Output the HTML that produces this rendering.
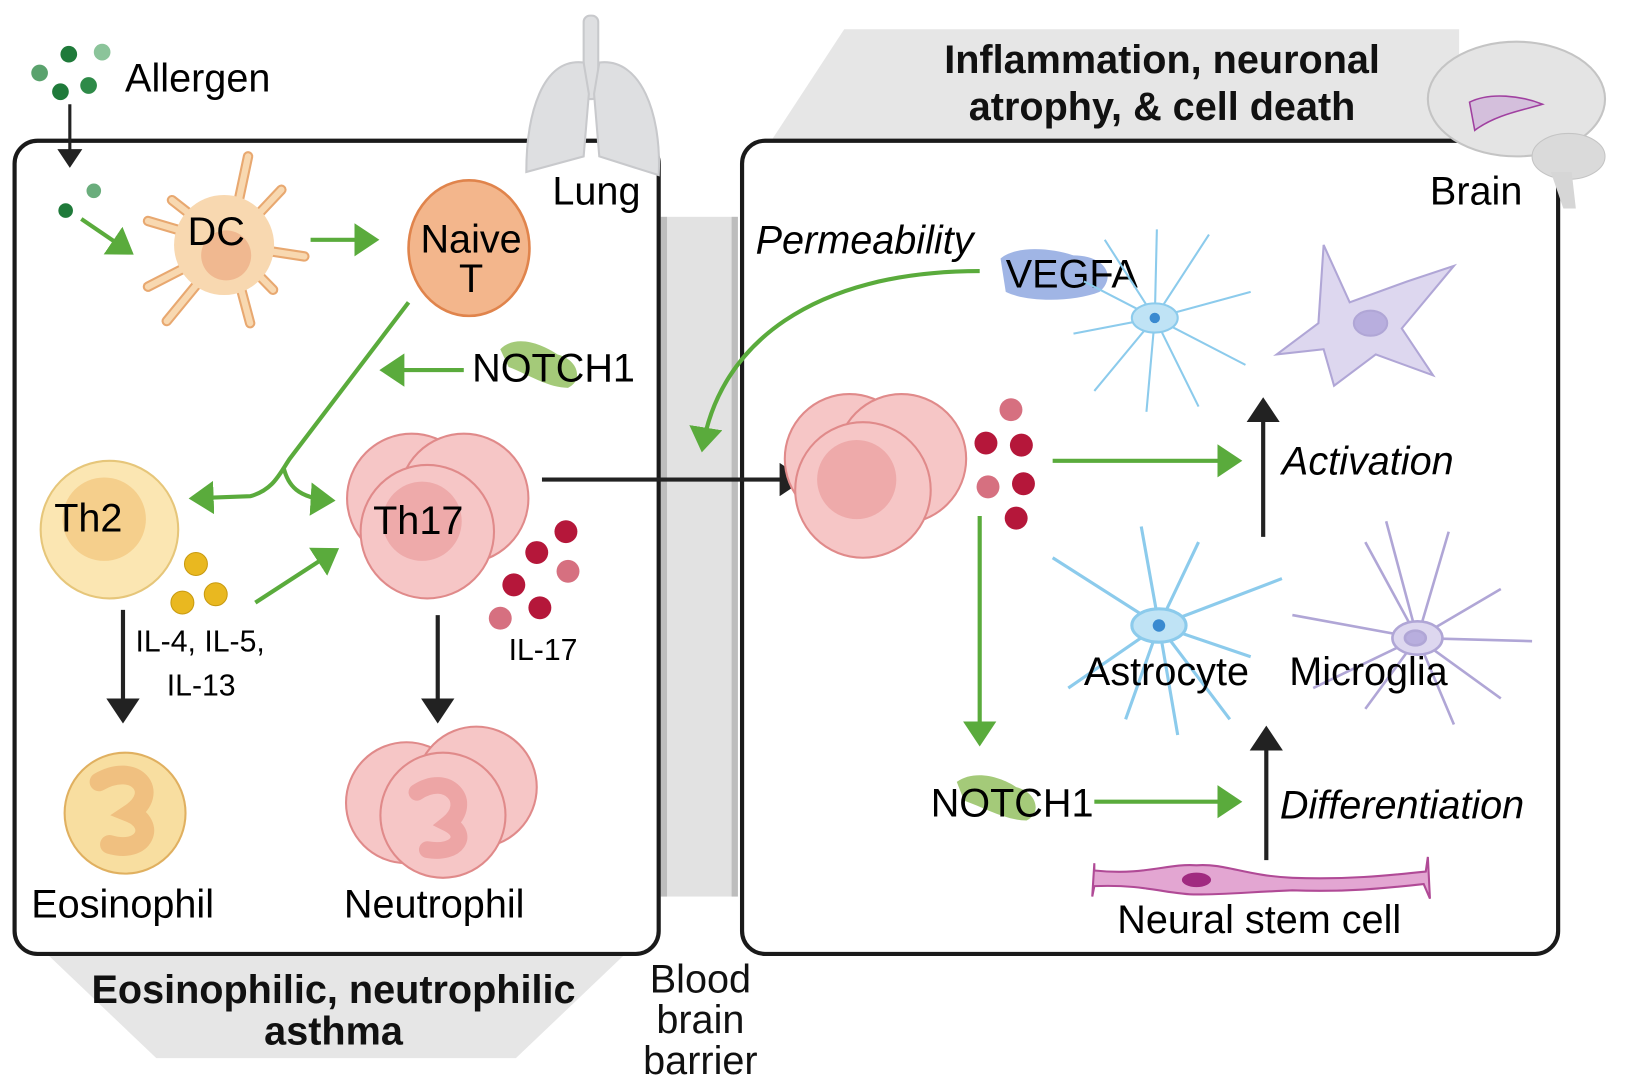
<!DOCTYPE html>
<html><head><meta charset="utf-8"><style>
html,body{margin:0;padding:0;background:#fff;}
svg{display:block;font-family:"Liberation Sans",sans-serif;}
</style></head><body>
<svg width="1629" height="1079" viewBox="0 0 1563 1035" preserveAspectRatio="none">
<defs>
<marker id="ga" markerWidth="8" markerHeight="8" refX="5" refY="4" orient="auto" markerUnits="strokeWidth"><path d="M0,0 L6,4 L0,8 Z" fill="#5aab3c"/></marker>
<marker id="ka" markerWidth="8" markerHeight="8" refX="5" refY="4" orient="auto" markerUnits="strokeWidth"><path d="M0,0 L6,4 L0,8 Z" fill="#222"/></marker>
</defs>

<polygon points="45,915 600,915 495,1015 150,1015" fill="#e6e6e6"/>
<polygon points="740,135 1400,135 1400,28 810,28" fill="#e6e6e6"/>

<g>
<rect x="634" y="208" width="74" height="652" fill="#e2e2e2"/>
<rect x="634" y="208" width="6" height="652" fill="#bdbdbd"/>
<rect x="702" y="208" width="6" height="652" fill="#bdbdbd"/>
</g>

<rect x="14" y="135" width="618" height="780" rx="22" fill="none" stroke="#1a1a1a" stroke-width="4"/>
<rect x="712" y="135" width="783" height="780" rx="22" fill="none" stroke="#1a1a1a" stroke-width="4"/>

<g fill="#dedfe1" stroke="#c8c9cc" stroke-width="2">
<rect x="560" y="15" width="14" height="80" rx="6"/>
<path d="M560,60 C520,55 505,110 505,165 L560,150 L565,90 Z"/>
<path d="M575,60 C615,55 635,110 632,168 L575,150 L570,90 Z"/>
</g>
<g>
<ellipse cx="1455" cy="95" rx="85" ry="55" fill="#e4e4e4" stroke="#c4c4c4" stroke-width="2"/>
<path d="M1410,98 C1430,88 1460,92 1480,100 C1460,106 1435,110 1415,125 Z" fill="#d4bfdc" stroke="#a040a0" stroke-width="1.5"/>
<ellipse cx="1505" cy="150" rx="35" ry="22" fill="#dadada" stroke="#c4c4c4"/>
<path d="M1488,165 L1500,200 L1512,200 L1508,165 Z" fill="#d6d6d6"/>
</g>

<g font-weight="bold" font-size="38" text-anchor="middle" fill="#111">
<text x="320" y="962">Eosinophilic, neutrophilic</text>
<text x="320" y="1002">asthma</text>
<text x="1115" y="70">Inflammation, neuronal</text>
<text x="1115" y="115">atrophy, &amp; cell death</text>
</g>
<g font-size="38" text-anchor="middle" fill="#111">
<text x="672" y="952">Blood</text>
<text x="672" y="991">brain</text>
<text x="672" y="1030">barrier</text>
</g>

<g>
<circle cx="66" cy="52" r="8" fill="#1f7a3a"/><circle cx="98" cy="50" r="8" fill="#8bc49a"/>
<circle cx="38" cy="70" r="8" fill="#5aa26d"/><circle cx="58" cy="88" r="8" fill="#1f7a3a"/><circle cx="85" cy="82" r="8" fill="#2e8a48"/>
<circle cx="63" cy="202" r="7" fill="#1f7a3a"/><circle cx="90" cy="183" r="7" fill="#6aad7c"/>
</g>
<text x="120" y="88" font-size="38">Allergen</text>
<line x1="67" y1="100" x2="67" y2="158" stroke="#222" stroke-width="3" marker-end="url(#ka)"/>
<line x1="78" y1="210" x2="125" y2="242" stroke="#5aab3c" stroke-width="4" marker-end="url(#ga)"/>

<text x="530" y="196" font-size="38">Lung</text>
<text x="1372" y="196" font-size="38">Brain</text>

<g>
<g stroke="#e8a870" stroke-width="10" stroke-linecap="round">
<line x1="220" y1="235" x2="238" y2="150"/><line x1="220" y1="235" x2="270" y2="182"/><line x1="220" y1="235" x2="292" y2="246"/>
<line x1="220" y1="235" x2="262" y2="278"/><line x1="220" y1="235" x2="240" y2="310"/><line x1="220" y1="235" x2="160" y2="308"/>
<line x1="220" y1="235" x2="142" y2="275"/><line x1="220" y1="235" x2="142" y2="212"/><line x1="220" y1="235" x2="165" y2="192"/>
</g>
<g stroke="#f8d8b0" stroke-width="6" stroke-linecap="round">
<line x1="220" y1="235" x2="238" y2="150"/><line x1="220" y1="235" x2="270" y2="182"/><line x1="220" y1="235" x2="292" y2="246"/>
<line x1="220" y1="235" x2="262" y2="278"/><line x1="220" y1="235" x2="240" y2="310"/><line x1="220" y1="235" x2="160" y2="308"/>
<line x1="220" y1="235" x2="142" y2="275"/><line x1="220" y1="235" x2="142" y2="212"/><line x1="220" y1="235" x2="165" y2="192"/>
</g>
<circle cx="215" cy="235" r="48" fill="#f8d8b0"/>
<circle cx="217" cy="245" r="24" fill="#f0b890"/>
</g>
<text x="180" y="235" font-size="38">DC</text>
<line x1="298" y1="230" x2="360" y2="230" stroke="#5aab3c" stroke-width="4" marker-end="url(#ga)"/>

<ellipse cx="450" cy="238" rx="58" ry="65" fill="#f3b68c" stroke="#e0844c" stroke-width="2.5"/>
<text x="452" y="242" font-size="38" text-anchor="middle">Naive</text>
<text x="452" y="280" font-size="38" text-anchor="middle">T</text>

<path d="M480,335 C495,320 520,330 535,340 C555,345 560,365 545,372 C525,372 505,358 488,352 Z" fill="#9ac46a" opacity="0.9"/>
<text x="453" y="366" font-size="38">NOTCH1</text>
<line x1="445" y1="355" x2="368" y2="355" stroke="#5aab3c" stroke-width="4" marker-end="url(#ga)"/>

<path d="M392,290 L278,440 C268,455 262,470 240,476 L185,478" fill="none" stroke="#5aab3c" stroke-width="4" marker-end="url(#ga)"/>
<path d="M272,448 C276,465 285,478 318,480" fill="none" stroke="#5aab3c" stroke-width="4" marker-end="url(#ga)"/>

<g>
<circle cx="105" cy="508" r="66" fill="#fbe6b2" stroke="#e6c67a" stroke-width="2"/>
<circle cx="100" cy="498" r="40" fill="#f5cf8c"/>
</g>
<text x="52" y="510" font-size="38">Th2</text>
<g fill="#e9b820" stroke="#c89a10">
<circle cx="188" cy="541" r="11"/><circle cx="175" cy="578" r="11"/><circle cx="207" cy="570" r="11"/>
</g>
<text x="130" y="625" font-size="29">IL-4, IL-5,</text>
<text x="160" y="667" font-size="29">IL-13</text>
<line x1="245" y1="578" x2="322" y2="528" stroke="#5aab3c" stroke-width="4" marker-end="url(#ga)"/>

<g fill="#f6c6c6" stroke="#e08a8a" stroke-width="2">
<circle cx="395" cy="478" r="62"/><circle cx="445" cy="478" r="62"/><circle cx="410" cy="510" r="64"/>
<circle cx="405" cy="500" r="38" fill="#eeaaaa" stroke="none"/>
</g>
<text x="358" y="512" font-size="38">Th17</text>
<g fill="#b5173a">
<circle cx="543" cy="510" r="11"/><circle cx="515" cy="530" r="11"/><circle cx="545" cy="548" r="11" fill="#d67080"/>
<circle cx="493" cy="561" r="11"/><circle cx="518" cy="583" r="11"/><circle cx="480" cy="593" r="11" fill="#d67080"/>
</g>
<text x="488" y="633" font-size="29">IL-17</text>

<line x1="118" y1="585" x2="118" y2="690" stroke="#222" stroke-width="4" marker-end="url(#ka)"/>
<line x1="420" y1="590" x2="420" y2="690" stroke="#222" stroke-width="4" marker-end="url(#ka)"/>

<g>
<circle cx="120" cy="780" r="58" fill="#f8dea0" stroke="#e0b060" stroke-width="2"/>
<path d="M95,750 C130,730 155,760 125,780 C150,790 140,820 105,810" fill="none" stroke="#f0c080" stroke-width="18" stroke-linecap="round"/>
</g>
<text x="30" y="880" font-size="38">Eosinophil</text>
<g fill="#f6c6c6" stroke="#e08a8a" stroke-width="2">
<circle cx="390" cy="770" r="58"/><circle cx="457" cy="755" r="58"/><circle cx="425" cy="782" r="60"/>
<path d="M400,760 C430,740 455,770 430,790 C450,800 440,820 410,815" fill="none" stroke="#eda5a5" stroke-width="16" stroke-linecap="round"/>
</g>
<text x="330" y="880" font-size="38">Neutrophil</text>

<line x1="520" y1="460" x2="768" y2="460" stroke="#222" stroke-width="4" marker-end="url(#ka)"/>

<text x="725" y="243" font-size="38" font-style="italic">Permeability</text>
<path d="M960,248 C975,235 1010,238 1030,245 C1060,245 1072,265 1055,280 C1030,290 985,290 965,280 Z" fill="#8fa8e0" opacity="0.85"/>
<text x="965" y="276" font-size="38">VEGFA</text>
<path d="M940,260 C780,260 690,330 674,430" fill="none" stroke="#5aab3c" stroke-width="4" marker-end="url(#ga)"/>

<g fill="#f6c6c6" stroke="#e08a8a" stroke-width="2">
<circle cx="815" cy="440" r="62"/><circle cx="865" cy="440" r="62"/><circle cx="828" cy="470" r="65"/>
<circle cx="822" cy="460" r="38" fill="#eeaaaa" stroke="none"/>
</g>
<g fill="#b5173a">
<circle cx="970" cy="393" r="11" fill="#d67080"/><circle cx="946" cy="425" r="11"/><circle cx="980" cy="427" r="11"/>
<circle cx="948" cy="467" r="11" fill="#d67080"/><circle cx="982" cy="464" r="11"/><circle cx="975" cy="497" r="11"/>
</g>
<line x1="1010" y1="442" x2="1188" y2="442" stroke="#5aab3c" stroke-width="4" marker-end="url(#ga)"/>
<text x="1230" y="455" font-size="38" font-style="italic">Activation</text>
<line x1="1212" y1="515" x2="1212" y2="385" stroke="#222" stroke-width="4" marker-end="url(#ka)"/>

<g stroke="#8ccbec" stroke-width="2" fill="none">
<path d="M1108,305 L1060,230 M1108,305 L1040,270 M1108,305 L1030,320 M1108,305 L1050,375 M1108,305 L1100,395 M1108,305 L1150,390 M1108,305 L1195,350 M1108,305 L1200,280 M1108,305 L1160,225 M1108,305 L1110,220"/>
<ellipse cx="1108" cy="305" rx="22" ry="14" fill="#bfe3f5"/>
<circle cx="1108" cy="305" r="5" fill="#3a8ad0" stroke="none"/>
</g>
<g stroke="#8ccbec" stroke-width="3" fill="none">
<path d="M1112,600 L1095,505 M1112,600 L1010,535 M1112,600 L1025,660 M1112,600 L1080,690 M1112,600 L1130,705 M1112,600 L1180,690 M1112,600 L1230,555 M1112,600 L1150,520 M1112,600 L1200,630"/>
<ellipse cx="1112" cy="600" rx="26" ry="16" fill="#bfe3f5"/>
<circle cx="1112" cy="600" r="6" fill="#3a8ad0" stroke="none"/>
</g>
<g fill="#ddd7ef" stroke="#b0a6d6" stroke-width="2">
<path d="M1270,235 L1295,290 L1350,270 L1395,255 L1345,315 L1375,360 L1320,340 L1280,370 L1270,335 L1225,340 L1265,310 Z"/>
<ellipse cx="1315" cy="310" rx="16" ry="12" fill="#b8aede"/>
</g>
<g stroke="#b0a6d6" stroke-width="2.5" fill="none">
<path d="M1360,612 L1310,520 M1360,612 L1330,500 M1360,612 L1240,590 M1360,612 L1260,660 M1360,612 L1310,680 M1360,612 L1395,695 M1360,612 L1470,615 M1360,612 L1440,565 M1360,612 L1390,510 M1360,612 L1440,670"/>
<ellipse cx="1360" cy="612" rx="24" ry="16" fill="#ddd7ef"/>
<ellipse cx="1358" cy="612" rx="10" ry="7" fill="#b8aede"/>
</g>
<text x="1040" y="657" font-size="38">Astrocyte</text>
<text x="1237" y="657" font-size="38">Microglia</text>

<line x1="940" y1="495" x2="940" y2="712" stroke="#5aab3c" stroke-width="4" marker-end="url(#ga)"/>
<path d="M918,750 C935,738 960,745 975,755 C995,760 1000,780 985,787 C965,787 945,775 925,768 Z" fill="#9ac46a" opacity="0.9"/>
<text x="893" y="783" font-size="38">NOTCH1</text>
<line x1="1050" y1="769" x2="1188" y2="769" stroke="#5aab3c" stroke-width="4" marker-end="url(#ga)"/>
<text x="1228" y="785" font-size="38" font-style="italic">Differentiation</text>
<line x1="1215" y1="825" x2="1215" y2="700" stroke="#222" stroke-width="4" marker-end="url(#ka)"/>

<g>
<path d="M1050,835 C1100,840 1120,828 1148,830 C1175,828 1195,840 1240,842 C1290,844 1330,840 1368,836 L1370,822 L1372,862 L1366,848 C1330,852 1290,856 1240,854 C1195,856 1175,858 1148,858 C1120,858 1100,848 1050,850 L1048,860 L1050,828 Z" fill="#e3a6d2" stroke="#b04a96" stroke-width="2"/>
<ellipse cx="1148" cy="844" rx="14" ry="7" fill="#a02a80"/>
</g>
<text x="1072" y="895" font-size="38">Neural stem cell</text>
</svg>
</body></html>
